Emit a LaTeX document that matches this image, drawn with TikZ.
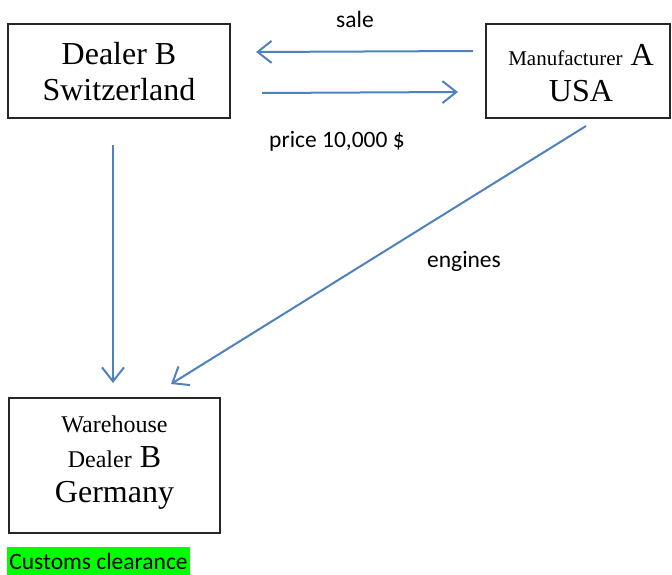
\documentclass[tikz,border=0pt]{standalone}
\usepackage{fontspec}
\setmainfont{Liberation Serif}
\newfontfamily\calfont{Carlito}
\usetikzlibrary{arrows.meta}
\definecolor{arrowblue}{HTML}{4F81BD}
\definecolor{hlgreen}{HTML}{00FF00}
\tikzset{
  box/.style={draw=black!85, line width=1.3pt, inner sep=0pt},
  boxtext/.style={align=center, inner sep=0pt, font=\fontsize{32}{36}\selectfont},
  flow/.style={draw=arrowblue, line width=2pt, -{Straight Barb[length=14pt,width=22pt,line width=2pt]}},
  lbl/.style={inner sep=0pt, font=\calfont\fontsize{23.5}{26}\selectfont},
}
\begin{document}
\begin{tikzpicture}[x=1pt,y=-1pt]
\useasboundingbox (0,0) rectangle (672,575);
% boxes
\node[box, minimum width=222pt, minimum height=94pt] (dealer) at (119,71) {};
\node[box, minimum width=184pt, minimum height=94pt] (manuf) at (578,71) {};
\node[box, minimum width=211pt, minimum height=135pt] (wh) at (114.5,465.5) {};
% box texts
\node[boxtext] (dealertxt) at (119,72) {Dealer B\\Switzerland};
\node[boxtext] (manuftxt) at (581,73) {{\fontsize{21}{21}\selectfont Manufacturer} A\\USA};
\node[boxtext, font=\fontsize{32}{35}\selectfont] (whtxt) at (114.5,463) {{\fontsize{24}{24}\selectfont Warehouse}\\{\fontsize{24}{24}\selectfont Dealer} B\\Germany};
% connector ends
\coordinate (saleS) at (473,51);
\coordinate (saleE) at (256,52);
\coordinate (priceS) at (262,93);
\coordinate (priceE) at (458,92);
\coordinate (downS) at (113,145);
\coordinate (downE) at (113,383);
\coordinate (engS) at (586,126);
\coordinate (engE) at (171,384);
\draw[flow] (saleS) -- (saleE);
\draw[flow] (priceS) -- (priceE);
\draw[flow] (downS) -- (downE);
\draw[flow] (engS) -- (engE);
% labels
\node[lbl] (sale) at (355,19) {sale};
\node[lbl] (price) at (337,141) {price 10,000 \$};
\node[lbl] (engines) at (464,261) {engines};
\node[lbl, fill=hlgreen, minimum width=183pt, minimum height=29pt] (customs) at (98.5,561) {Customs clearance};
\end{tikzpicture}
\end{document}
